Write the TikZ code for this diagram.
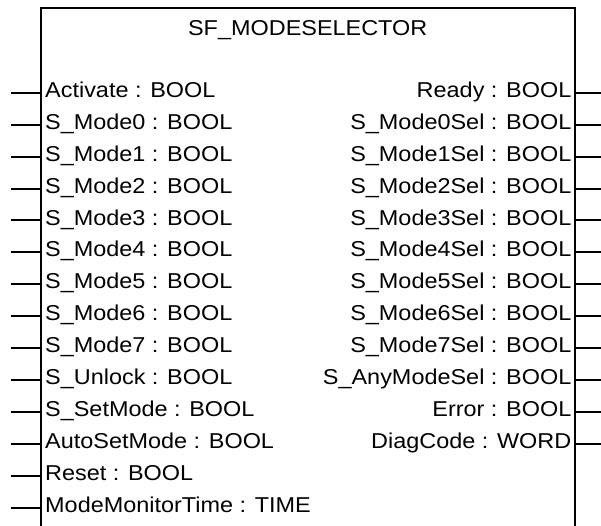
\documentclass[tikz,border=0pt]{standalone}
\usepackage{fontspec}
\setmainfont{Liberation Sans}[FakeStretch=1.09]
\usepackage{tikz}

\begin{document}
\begin{tikzpicture}[
  x=1pt, y=-1pt,
  line cap=rect, line join=miter,
  fbox/.style={draw=black, line width=2pt},
  wire/.style={draw=black, line width=2pt},
  inlab/.style={anchor=base west, inner sep=0pt, font=\fontsize{21.5}{24}\selectfont},
  outlab/.style={anchor=base east, inner sep=0pt, font=\fontsize{21.5}{24}\selectfont},
  fbname/.style={anchor=base, inner sep=0pt, font=\fontsize{21.5}{24}\selectfont},
]
\useasboundingbox (0,0) rectangle (601,525);

% block outline, open at the bottom
\coordinate (bl) at (41,527);
\coordinate (tl) at (41,7.5);
\coordinate (tr) at (574.5,7.5);
\coordinate (br) at (574.5,527);
\draw[fbox] (bl) -- (tl) -- (tr) -- (br);
\node[fbname] (name) at (307.7,35) {SF\_MODESELECTOR};

% inputs
\coordinate (i0) at (12,92.7);   \coordinate (p0) at (41,92.7);
\coordinate (i1) at (12,124.6);  \coordinate (p1) at (41,124.6);
\coordinate (i2) at (12,156.5);  \coordinate (p2) at (41,156.5);
\coordinate (i3) at (12,188.5);  \coordinate (p3) at (41,188.5);
\coordinate (i4) at (12,220.4);  \coordinate (p4) at (41,220.4);
\coordinate (i5) at (12,252.3);  \coordinate (p5) at (41,252.3);
\coordinate (i6) at (12,284.2);  \coordinate (p6) at (41,284.2);
\coordinate (i7) at (12,316.1);  \coordinate (p7) at (41,316.1);
\coordinate (i8) at (12,348.1);  \coordinate (p8) at (41,348.1);
\coordinate (i9) at (12,380.0);  \coordinate (p9) at (41,380.0);
\coordinate (i10) at (12,411.9); \coordinate (p10) at (41,411.9);
\coordinate (i11) at (12,443.8); \coordinate (p11) at (41,443.8);
\coordinate (i12) at (12,475.7); \coordinate (p12) at (41,475.7);
\coordinate (i13) at (12,507.7); \coordinate (p13) at (41,507.7);
\foreach \k in {0,...,13} \draw[wire] (i\k) -- (p\k);

\node[inlab] (inAct) at (45,97.3) {Activate : BOOL};
\node[inlab] (inM0) at (45,129.2) {S\_Mode0 : BOOL};
\node[inlab] (inM1) at (45,161.1) {S\_Mode1 : BOOL};
\node[inlab] (inM2) at (45,193.1) {S\_Mode2 : BOOL};
\node[inlab] (inM3) at (45,225.0) {S\_Mode3 : BOOL};
\node[inlab] (inM4) at (45,256.9) {S\_Mode4 : BOOL};
\node[inlab] (inM5) at (45,288.8) {S\_Mode5 : BOOL};
\node[inlab] (inM6) at (45,320.7) {S\_Mode6 : BOOL};
\node[inlab] (inM7) at (45,352.7) {S\_Mode7 : BOOL};
\node[inlab] (inUnl) at (45,384.6) {S\_Unlock : BOOL};
\node[inlab] (inSet) at (45,416.5) {S\_SetMode : BOOL};
\node[inlab] (inAuto) at (45,448.4) {AutoSetMode : BOOL};
\node[inlab] (inRst) at (45,480.3) {Reset : BOOL};
\node[inlab] (inMon) at (45,512.3) {ModeMonitorTime : TIME};

% outputs
\coordinate (q0) at (574.5,92.7);   \coordinate (o0) at (601,92.7);
\coordinate (q1) at (574.5,124.6);  \coordinate (o1) at (601,124.6);
\coordinate (q2) at (574.5,156.5);  \coordinate (o2) at (601,156.5);
\coordinate (q3) at (574.5,188.5);  \coordinate (o3) at (601,188.5);
\coordinate (q4) at (574.5,220.4);  \coordinate (o4) at (601,220.4);
\coordinate (q5) at (574.5,252.3);  \coordinate (o5) at (601,252.3);
\coordinate (q6) at (574.5,284.2);  \coordinate (o6) at (601,284.2);
\coordinate (q7) at (574.5,316.1);  \coordinate (o7) at (601,316.1);
\coordinate (q8) at (574.5,348.1);  \coordinate (o8) at (601,348.1);
\coordinate (q9) at (574.5,380.0);  \coordinate (o9) at (601,380.0);
\coordinate (q10) at (574.5,411.9); \coordinate (o10) at (601,411.9);
\coordinate (q11) at (574.5,443.8); \coordinate (o11) at (601,443.8);
\foreach \k in {0,...,11} \draw[wire] (q\k) -- (o\k);

\node[outlab] (outRdy) at (571.5,97.3) {Ready : BOOL};
\node[outlab] (outS0) at (571.5,129.2) {S\_Mode0Sel : BOOL};
\node[outlab] (outS1) at (571.5,161.1) {S\_Mode1Sel : BOOL};
\node[outlab] (outS2) at (571.5,193.1) {S\_Mode2Sel : BOOL};
\node[outlab] (outS3) at (571.5,225.0) {S\_Mode3Sel : BOOL};
\node[outlab] (outS4) at (571.5,256.9) {S\_Mode4Sel : BOOL};
\node[outlab] (outS5) at (571.5,288.8) {S\_Mode5Sel : BOOL};
\node[outlab] (outS6) at (571.5,320.7) {S\_Mode6Sel : BOOL};
\node[outlab] (outS7) at (571.5,352.7) {S\_Mode7Sel : BOOL};
\node[outlab] (outAny) at (571.5,384.6) {S\_AnyModeSel : BOOL};
\node[outlab] (outErr) at (571.5,416.5) {Error : BOOL};
\node[outlab] (outDiag) at (571.5,448.4) {DiagCode : WORD};
\end{tikzpicture}
\end{document}
